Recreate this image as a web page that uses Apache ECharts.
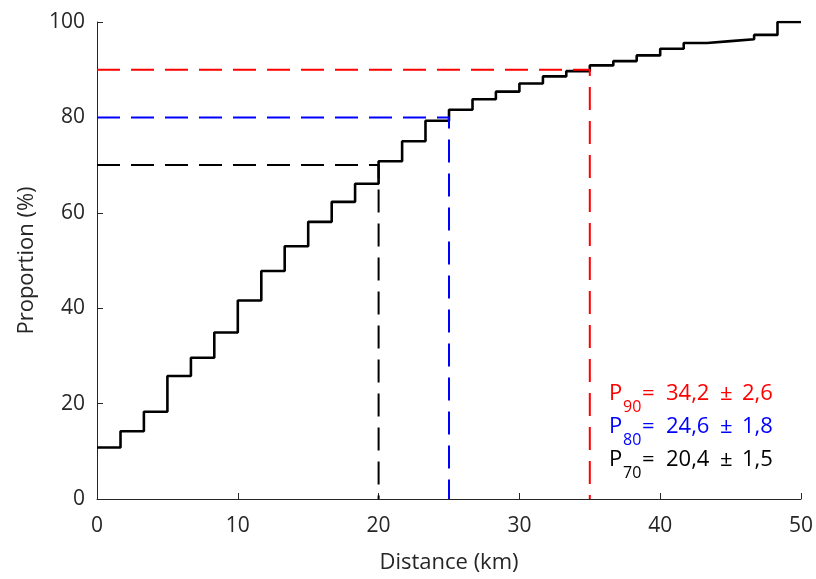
<!DOCTYPE html>
<html>
<head>
<meta charset="utf-8">
<script src="https://cdn.jsdelivr.net/npm/echarts@6/dist/echarts.min.js"></script>
<style>html,body{margin:0;padding:0;background:#fff}#c{width:816px;height:579px}</style>
</head>
<body>
<div id="c"></div>
<script>
// step start positions (km) and cumulative proportion (%) per step
var stepStarts = [0, 1.67, 3.33, 5, 6.67, 8.33, 10, 11.67, 13.33, 15, 16.67, 18.33, 20, 21.67, 23.33, 25, 26.67, 28.33, 30, 31.67, 33.33, 35, 36.67, 38.33, 40, 41.67, 43.33, 45, 46.67, 48.33];
var stepValues = [10.8, 14.2, 18.3, 25.8, 29.6, 34.9, 41.6, 47.8, 53.0, 58.1, 62.3, 66.1, 70.8, 75.0, 79.3, 81.6, 83.8, 85.4, 87.1, 88.6, 89.7, 90.9, 91.8, 93.0, 94.4, 95.6, 96.0, 96.4, 97.3, 100];
var stepEnd = 50;
// percentile guide lines
var pLevels = [90, 80, 70];
var pDistances = [35, 25, 20];
var pColors = ['#ff0000', '#0000ff', '#000000'];
var pSubs = ['90', '80', '70'];
var pVals = ['34,2', '24,6', '20,4'];
var pErrs = ['2,6', '1,8', '1,5'];
var xTicks = [0, 10, 20, 30, 40, 50];
var yTicks = [0, 20, 40, 60, 80, 100];

var FONT = '"Open Sans", "Noto Sans", sans-serif';
var AX = '#262626';

var curve = stepStarts.map(function (x, i) { return [x, stepValues[i]]; });
curve.push([stepEnd, stepValues[stepValues.length - 1]]);

var series = [{
  type: 'line', step: 'end', data: curve, symbol: 'none', z: 2,
  lineStyle: { color: '#000', width: 2.6 }, animation: false
}];
pLevels.forEach(function (lv, i) {
  series.push({
    type: 'line', data: [[0, lv], [pDistances[i], lv], [pDistances[i], 0]],
    symbol: 'none', z: 3, animation: false,
    lineStyle: { color: pColors[i], width: 2, type: [23, 11] }
  });
});

var graphics = [];
var lineY = [395, 428, 461];
pVals.forEach(function (v, i) {
  var f = '22px ' + FONT;
  var t = lineY[i] - 12;
  graphics.push({ type: 'text', left: 609, top: t, style: { text: 'P', fill: pColors[i], font: f } });
  graphics.push({ type: 'text', left: 623, top: lineY[i] + 4, style: { text: pSubs[i], fill: pColors[i], font: '16px ' + FONT } });
  graphics.push({ type: 'text', left: 642, top: t, style: { text: '=', fill: pColors[i], font: f } });
  graphics.push({ type: 'text', left: 666, top: t, style: { text: v, fill: pColors[i], font: f } });
  graphics.push({ type: 'text', left: 720, top: t, style: { text: '\u00b1', fill: pColors[i], font: f } });
  graphics.push({ type: 'text', left: 742, top: t, style: { text: pErrs[i], fill: pColors[i], font: f } });
});

var chart = echarts.init(document.getElementById('c'), null, { renderer: 'canvas' });
chart.setOption({
  animation: false,
  backgroundColor: '#fff',
  grid: { left: 97, right: 15, top: 22, bottom: 80, containLabel: false, outerBoundsMode: 'none' },
  xAxis: {
    type: 'value', min: 0, max: 50, interval: 10,
    name: 'Distance (km)', nameLocation: 'middle', nameGap: 53,
    nameTextStyle: { color: AX, fontFamily: FONT, fontSize: 22 },
    axisLine: { show: true, lineStyle: { color: AX, width: 1 } },
    axisTick: { show: true, inside: true, length: 6, lineStyle: { color: AX } },
    axisLabel: { color: AX, fontFamily: FONT, fontSize: 21, margin: 17,
      formatter: function (v) { return xTicks.indexOf(v) >= 0 ? String(v) : ''; } },
    splitLine: { show: false }
  },
  yAxis: {
    type: 'value', min: 0, max: 100, interval: 20,
    name: 'Proportion (%)', nameLocation: 'middle', nameGap: 58, nameRotate: 90,
    nameTextStyle: { color: AX, fontFamily: FONT, fontSize: 22 },
    axisLine: { show: true, lineStyle: { color: AX, width: 1 } },
    axisTick: { show: true, inside: true, length: 6, lineStyle: { color: AX } },
    axisLabel: { color: AX, fontFamily: FONT, fontSize: 21, margin: 12,
      formatter: function (v) { return yTicks.indexOf(v) >= 0 ? String(v) : ''; } },
    splitLine: { show: false }
  },
  series: series,
  graphic: graphics
});
</script>
</body>
</html>
